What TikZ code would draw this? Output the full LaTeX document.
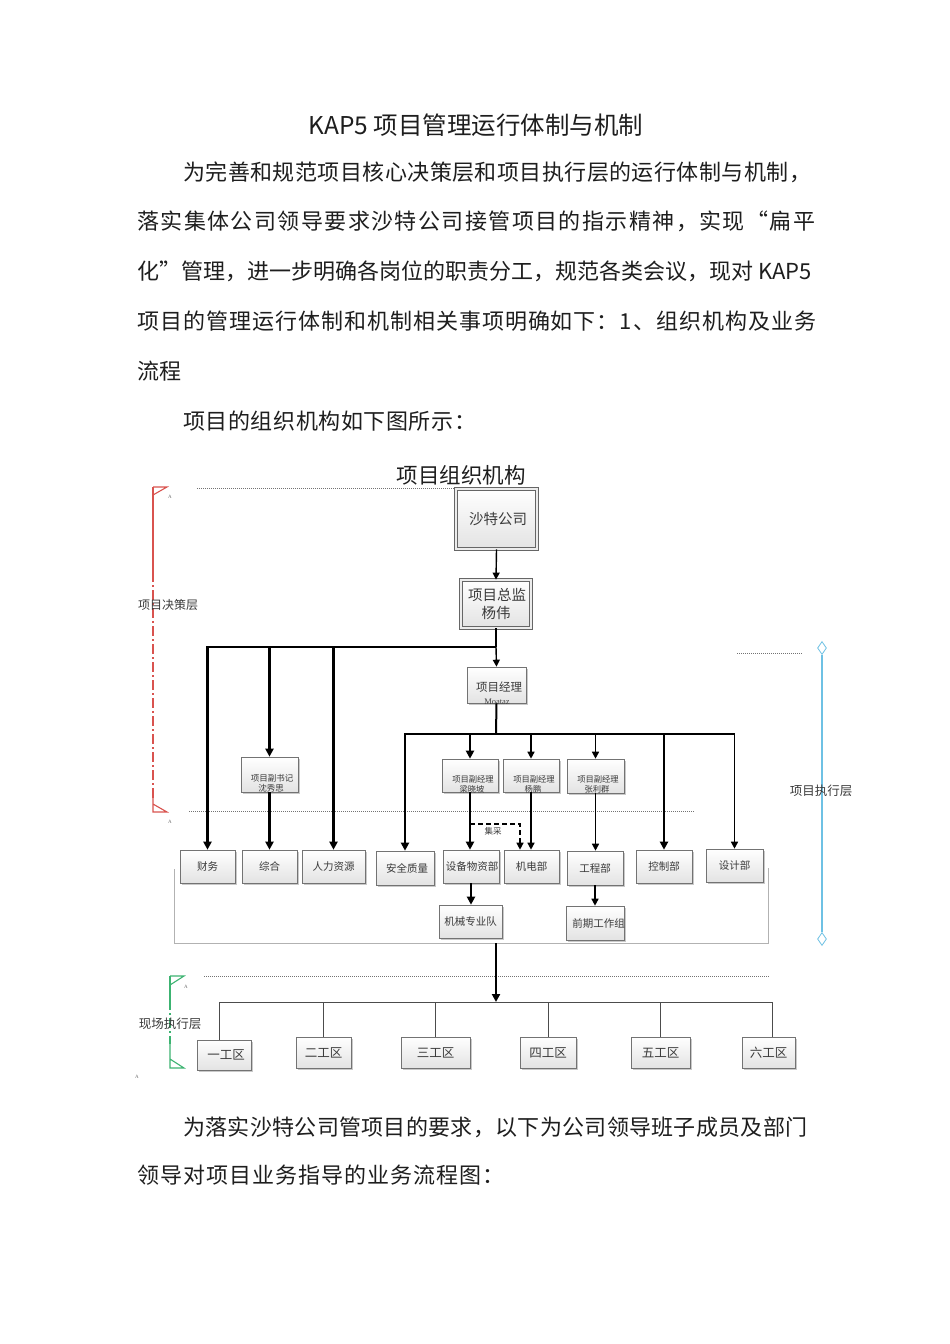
\documentclass[tikz,border=0pt]{standalone}
\usepackage{fontspec}
\setmainfont{Noto Sans CJK SC}
\newfontfamily\latserif{Liberation Serif}
\usetikzlibrary{arrows.meta,shadows,shapes.geometric}
\definecolor{txt}{HTML}{1E1E1E}
\definecolor{lbl}{HTML}{3A3A3A}
\definecolor{redb}{HTML}{D9534F}
\definecolor{greenb}{HTML}{3CB371}
\definecolor{blueb}{HTML}{6EC1E4}
\newcommand\fsz[1]{\fontsize{#1}{#1}\selectfont}
\newcommand\lsp[1]{\addfontfeature{LetterSpace=#1}}
\begin{document}
\begin{tikzpicture}[x=1pt,y=-1pt,
  box/.style={draw=black!55, line width=0.6pt, top color=white, bottom color=gray!22,
    inner sep=0pt, text=lbl, align=center,
    drop shadow={shadow xshift=1.5pt, shadow yshift=-1.5pt, fill=black!35, opacity=0.6}},
  wh/.style 2 args={minimum width=#1, minimum height=#2},
  dbl/.style={double=gray!15, double distance=2pt, draw=black!60, line width=0.8pt},
  lbltxt/.style={inner sep=0pt, text=lbl},
  body/.style={anchor=west, inner sep=0pt, text=txt, font=\fsz{22}},
  thk/.style={line width=2.3pt, -{Triangle[length=8pt,width=8pt]}},
  thn/.style={line width=1.4pt, -{Triangle[length=7pt,width=7pt]}},
  dotln/.style={draw=black!55, line width=0.7pt, dash pattern=on 1pt off 1pt},
  encl/.style={draw=black!30, line width=0.8pt},
  hubln/.style={draw=black!70, line width=1pt},
  tinyA/.style={inner sep=0pt, text=black!60, font=\latserif\fsz{5}}
]
\path[use as bounding box, fill=white] (0,0) rectangle (950,1344);

% ---------- text ----------
\node[inner sep=0pt, text=txt, font=\fsz{24.5}] (title) at (476,125) {KAP5 项目管理运行体制与机制};
\node[body] (p1) at (183,172) {{\lsp{2}为完善和规范项目核心决策层和项目执行层的运行体制与机制，}};
\node[body] (p2) at (137,221) {{\lsp{6.5}落实集体公司领导要求沙特公司接管项目的指示精神，实现“扁平}};
\node[body] (p3) at (137,271) {化”管理，进一步明确各岗位的职责分工，规范各类会议，现对 KAP5};
\node[body] (p4) at (137,321) {{\lsp{4.5}项目的管理运行体制和机制相关事项明确如下：1、组织机构及业务}};
\node[body] (p5) at (137,371) {流程};
\node[body] (p6) at (183,421) {{\lsp{2.6}项目的组织机构如下图所示：}};
\node[body] (p7) at (183,1127) {{\lsp{1.4}为落实沙特公司管项目的要求，以下为公司领导班子成员及部门}};
\node[body] (p8) at (137,1175) {{\lsp{4.5}领导对项目业务指导的业务流程图：}};

% ---------- diagram title and guide lines ----------
\node[inner sep=0pt, text=txt, font=\fsz{21.5}] (dtitle) at (461,475) {项目组织机构};
\coordinate (d1a) at (197,488); \coordinate (d1b) at (527,488);
\draw[dotln] (d1a) -- (d1b);
\coordinate (d2a) at (189,811); \coordinate (d2b) at (695,811);
\draw[dotln] (d2a) -- (d2b);
\coordinate (d3a) at (737,653); \coordinate (d3b) at (802,653);
\draw[dotln] (d3a) -- (d3b);
\coordinate (d4a) at (204,976); \coordinate (d4b) at (769,976);
\draw[dotln] (d4a) -- (d4b);

% ---------- layer brackets ----------
% red: decision layer
\draw[redb, line width=1.1pt] (153,487) -- (167,487) -- (153,495);
\draw[redb, line width=1.1pt] (153,487) -- (153,572);
\draw[redb, line width=1.1pt, dash pattern=on 10pt off 3pt on 2pt off 3pt] (153,572) -- (153,798);
\draw[redb, line width=1.1pt] (153,798) -- (153,812) -- (167,812) -- (153,804);
\node[tinyA] (a1) at (170,497) {A};
\node[tinyA] (a2) at (170,822) {A};
\node[lbltxt, font=\fsz{12}] (lay1) at (168,605) {项目决策层};
% green: field layer
\draw[greenb, line width=1.1pt] (170,976) -- (184,976) -- (170,985);
\draw[greenb, line width=1.1pt] (170,976) -- (170,1000);
\draw[greenb, line width=1.1pt, dash pattern=on 10pt off 3pt on 2pt off 3pt] (170,1000) -- (170,1044);
\draw[greenb, line width=1.1pt] (170,1044) -- (170,1068) -- (184,1068) -- (170,1059);
\node[tinyA] (a3) at (186,987) {A};
\node[tinyA] (a4) at (137,1077) {A};
\node[lbltxt, font=\fsz{12.5}] (lay3) at (170,1024) {现场执行层};
% blue: execution layer
\node[diamond, draw=blueb, fill=white, line width=0.8pt, inner sep=0pt, minimum width=9pt, minimum height=13pt] (dtop) at (822,648) {};
\node[diamond, draw=blueb, fill=white, line width=0.8pt, inner sep=0pt, minimum width=9pt, minimum height=13pt] (dbot) at (822,939) {};
\draw[blueb, line width=1.6pt] (dtop) -- (dbot);
\node[lbltxt, font=\fsz{12.5}] (lay2) at (821,791) {项目执行层};

% ---------- boxes ----------
\node[box, dbl, wh={81pt}{60pt}, font=\fsz{14.5}] (sat) at (496.5,519) {\hspace{3pt}沙特公司};
\node[box, dbl, wh={70pt}{48pt}, font=\fsz{14.5}] (zj) at (496,604) {\hspace{2pt}项目总监\\[4pt]杨伟};

\node[box, wh={59pt}{36pt}] (jl) at (496.5,685) {};
\node[lbltxt, font=\fsz{11.5}] (jlt) at (499,687) {项目经理};
\node[inner sep=0pt, text=black!75, font=\latserif\fsz{8.5}] (jlm) at (497,702) {Moataz};

\node[box, wh={57pt}{35pt}] (fsj) at (269.5,774.5) {};
\node[lbltxt, font=\fsz{8.5}] (fsjt) at (272,778) {项目副书记};
\node[lbltxt, font=\fsz{8.5}] (fsjn) at (271,788.5) {沈秀思};

\node[box, wh={56pt}{33pt}] (fjl1) at (470,775.5) {};
\node[lbltxt, font=\fsz{8.3}] (fjl1t) at (473,779) {项目副经理};
\node[lbltxt, font=\fsz{8.3}] (fjl1n) at (472,789.5) {梁晓坡};
\node[box, wh={56pt}{33pt}] (fjl2) at (531,775.5) {};
\node[lbltxt, font=\fsz{8.3}] (fjl2t) at (534,779) {项目副经理};
\node[lbltxt, font=\fsz{8.3}] (fjl2n) at (533,789.5) {杨鹏};
\node[box, wh={57pt}{34pt}] (fjl3) at (595.5,776) {};
\node[lbltxt, font=\fsz{8.3}] (fjl3t) at (598,779) {项目副经理};
\node[lbltxt, font=\fsz{8.3}] (fjl3n) at (597,789.5) {张利群};

% enclosure of departments
\coordinate (e1) at (174,869); \coordinate (e2) at (174,943);
\coordinate (e3) at (768,943); \coordinate (e4) at (768,868);
\draw[encl] (e1) -- (e2) -- (e3) -- (e4);

\node[box, wh={55pt}{33pt}, font=\fsz{10.5}] (cw) at (207.5,866.5) {财务};
\node[box, wh={55pt}{33pt}, font=\fsz{10.5}] (zh) at (269.5,866.5) {综合};
\node[box, wh={63pt}{33pt}, font=\fsz{10.5}] (rl) at (333.5,866.5) {人力资源};
\node[box, wh={58pt}{34pt}, font=\fsz{10.5}] (aq) at (405,868) {\hspace{4pt}安全质量};
\node[box, wh={56pt}{33pt}, font=\fsz{10.5}] (sb) at (471,866.5) {\hspace{2pt}设备物资部};
\node[box, wh={55pt}{33pt}, font=\fsz{10.5}] (jd) at (531.5,866.5) {机电部};
\node[box, wh={56pt}{34pt}, font=\fsz{10.5}] (gc) at (595,868) {\raisebox{-2pt}{工程部}};
\node[box, wh={56pt}{33pt}, font=\fsz{10.5}] (kz) at (664,866.5) {控制部};
\node[box, wh={57pt}{33pt}, font=\fsz{10.5}] (sj) at (734.5,865.5) {设计部};
\node[box, wh={63pt}{33pt}, font=\fsz{10.5}] (jx) at (470.5,921.5) {机械专业队};
\node[box, wh={55pt}{34pt}, font=\fsz{10.5}] (qq) at (595.5,923) {\hspace{6pt}前期工作组};

\node[box, wh={54pt}{30pt}, font=\fsz{12.5}] (g1) at (224,1055) {\hspace{4pt}一工区};
\node[box, wh={55pt}{31pt}, font=\fsz{12.5}] (g2) at (323.5,1052.5) {二工区};
\node[box, wh={69pt}{31pt}, font=\fsz{12.5}] (g3) at (435.5,1052.5) {三工区};
\node[box, wh={56pt}{31pt}, font=\fsz{12.5}] (g4) at (548,1052.5) {四工区};
\node[box, wh={59pt}{31pt}, font=\fsz{12.5}] (g5) at (660.5,1052.5) {五工区};
\node[box, wh={53pt}{31pt}, font=\fsz{12.5}] (g6) at (768.5,1052.5) {六工区};

% ---------- connectors ----------
\coordinate (h1) at (496,647);
\coordinate (h2) at (496,734);
\draw[thn] (sat.south) -- (zj.north);
\draw[line width=1.4pt] (zj.south) -- (h1);
\draw[thn] (h1) -- (jl.north);
\draw[thk] (h1) -| (cw.north);
\draw[thk] (fsj.north |- h1) -- (fsj.north);
\draw[thk] (rl.north |- h1) -- (rl.north);
\draw[thk] (fsj.south) -- (fsj.south |- zh.north);

\draw[line width=2pt] (jl.south) -- (h2);
\draw[thk] (h2) -| (aq.north);
\draw[thn] (h2) -| (sj.north);
\draw[thk] (fjl1.north |- h2) -- (fjl1.north);
\draw[thn] (fjl2.north |- h2) -- (fjl2.north);
\draw[thn] (fjl3.north |- h2) -- (fjl3.north);
\draw[thk] (kz.north |- h2) -- (kz.north);

\draw[thk] (fjl1.south) -- (fjl1.south |- sb.north);
\draw[thn] (fjl2.south) -- (fjl2.south |- jd.north);
\draw[thn] (fjl3.south) -- (fjl3.south |- gc.north);
\draw[thk] (sb.south) -- (sb.south |- jx.north);
\draw[thn] (gc.south) -- (gc.south |- qq.north);

\coordinate (jc1) at (470,824); \coordinate (jc2) at (520,824);
\draw[line width=1.2pt, dash pattern=on 5pt off 3pt, -{Triangle[length=7pt,width=7pt]}] (jc1) -- (jc2) -- (jd.north -| jc2);
\node[lbltxt, font=\fsz{8.5}] (jcl) at (493,831) {集采};

\coordinate (eb) at (496,943);
\coordinate (h3) at (496,1002);
\coordinate (h3l) at (219,1002); \coordinate (h3r) at (772,1002);
\draw[thk] (eb) -- (h3);
\draw[hubln] (g1.north -| h3l) -- (h3l) -- (h3r) -- (g6.north -| h3r);
\draw[hubln] (h3 -| g2.north) -- (g2.north);
\draw[hubln] (h3 -| g3.north) -- (g3.north);
\draw[hubln] (h3 -| g4.north) -- (g4.north);
\draw[hubln] (h3 -| g5.north) -- (g5.north);
\end{tikzpicture}
\end{document}
